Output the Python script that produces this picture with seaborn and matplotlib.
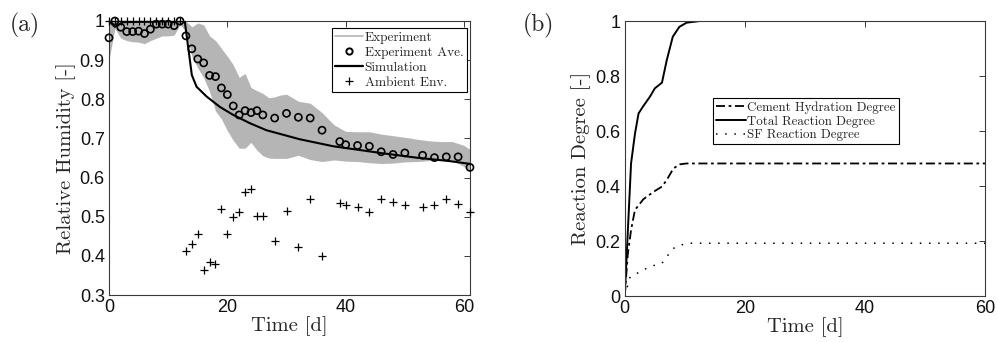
import numpy as np
import pandas as pd
import matplotlib
matplotlib.use("Agg")
import matplotlib.pyplot as plt
from matplotlib.lines import Line2D
import seaborn as sns

# ---------------- data: panel (a) ----------------
ave_t = [0, 1, 2, 3, 4, 5, 6, 7, 8, 9, 10, 11, 12, 13, 14, 15, 16, 17, 18, 19, 20,
         21, 22, 23, 24, 25, 26, 28, 30, 32, 34, 36, 39, 40, 42, 44, 46, 48, 50,
         53, 55, 57, 59, 61]
ave_rh = [0.957, 1.0, 0.984, 0.973, 0.973, 0.974, 0.968, 0.979, 0.992, 0.992, 0.992,
          0.988, 1.0, 0.962, 0.929, 0.903, 0.893, 0.861, 0.858, 0.829, 0.812, 0.783,
          0.760, 0.771, 0.766, 0.771, 0.760, 0.752, 0.764, 0.754, 0.752, 0.721, 0.692,
          0.684, 0.682, 0.680, 0.666, 0.659, 0.663, 0.657, 0.651, 0.653, 0.653, 0.626]

amb_t = [0, 1, 2, 3, 4, 5, 6, 7, 8, 9, 10, 11, 12, 13, 14, 15, 16, 17, 18, 19, 20,
         21, 22, 23, 24, 25, 26, 28, 30, 32, 34, 36, 39, 40, 42, 44, 46, 48, 50,
         53, 55, 57, 59, 61]
amb_rh = [1.0, 1.0, 1.0, 1.0, 1.0, 1.0, 1.0, 1.0, 1.0, 1.0, 1.0, 1.0, 1.0,
          0.413, 0.430, 0.457, 0.363, 0.384, 0.380, 0.520, 0.457, 0.500, 0.511, 0.562,
          0.572, 0.501, 0.501, 0.438, 0.514, 0.423, 0.544, 0.399, 0.535, 0.531, 0.525,
          0.513, 0.545, 0.538, 0.529, 0.525, 0.529, 0.546, 0.532, 0.511]

sim_t = [0, 1, 2.4, 12.8, 14, 14.8, 16.5, 18.7, 21, 23.8, 26.6, 32.2, 37.9, 40.7,
         46.3, 51.9, 57.6, 61]
sim_rh = [1.0, 0.985, 0.997, 1.0, 0.862, 0.832, 0.807, 0.781, 0.760, 0.739, 0.721,
          0.698, 0.680, 0.674, 0.662, 0.651, 0.642, 0.635]

band_t = [0, 1, 2, 3, 4, 5, 6, 7, 8, 9, 10, 11, 12, 13, 14, 15, 16, 17, 18, 19, 20,
          21, 22, 23, 24, 25, 26, 27, 28, 29, 30, 32, 34, 36, 38, 40, 42, 44, 46, 48,
          50, 52, 54, 56, 58, 60, 61]
band_hi = [1.0, 1.0, 1.0, 1.0, 1.0, 1.0, 1.0, 1.0, 1.0, 1.0, 1.0, 1.0, 1.0, 1.0,
           0.985, 0.995, 0.99, 0.962, 0.95, 0.93, 0.91, 0.888, 0.856, 0.866, 0.83,
           0.822, 0.815, 0.804, 0.806, 0.811, 0.813, 0.795, 0.79, 0.766, 0.735, 0.718,
           0.717, 0.717, 0.711, 0.707, 0.703, 0.698, 0.694, 0.692, 0.692, 0.682, 0.672]
band_lo = [0.90, 0.981, 0.956, 0.95, 0.947, 0.946, 0.942, 0.95, 0.956, 0.962, 0.962,
           0.964, 0.99, 0.975, 0.91, 0.88, 0.855, 0.82, 0.77, 0.75, 0.72, 0.695, 0.675,
           0.675, 0.69, 0.67, 0.656, 0.65, 0.649, 0.649, 0.649, 0.657, 0.646, 0.641,
           0.645, 0.642, 0.641, 0.638, 0.636, 0.637, 0.64, 0.641, 0.643, 0.645, 0.645,
           0.628, 0.618]

# ---------------- data: panel (b) ----------------
tot_t = [0, 1.05, 1.7, 2.3, 3.1, 4.2, 5.0, 6.2, 7.0, 8.0, 9.1, 10.3, 12.5, 60]
tot_v = [0, 0.482, 0.59, 0.664, 0.691, 0.725, 0.755, 0.776, 0.858, 0.943, 0.979,
         0.994, 1.0, 1.0]
cem_t = [0, 0.5, 1.05, 1.7, 3.1, 4.8, 6.2, 7.0, 8.1, 9.2, 10.3, 60]
cem_v = [0, 0.15, 0.24, 0.313, 0.352, 0.379, 0.398, 0.422, 0.464, 0.479, 0.482, 0.482]
sf_t = [0, 0.9, 2.0, 4.2, 6.2, 7.0, 8.1, 9.2, 10.9, 60]
sf_v = [0, 0.07, 0.082, 0.107, 0.119, 0.143, 0.173, 0.185, 0.192, 0.192]

# ---------------- style ----------------
sns.set_style("white")
plt.rcParams['font.family'] = ['Liberation Sans', 'DejaVu Sans']
SERIF = ['cmr10', 'Liberation Serif', 'DejaVu Serif']
plt.rcParams['axes.unicode_minus'] = False

fig = plt.figure(figsize=(9.98, 3.42), dpi=100)
axa = fig.add_axes([0.1092, 0.1374, 0.3617, 0.8012])
axb = fig.add_axes([0.626, 0.1345, 0.361, 0.804])

GRAY = '#b5b5b5'
SPINE = '#3a3a3a'
LABEL_FS = 14.8

# ---- panel (a)
axa.fill_between(band_t, band_lo, band_hi, color=GRAY, linewidth=0, zorder=1)
sns.lineplot(x=sim_t, y=sim_rh, ax=axa, color='black', linewidth=1.5,
             sort=False, estimator=None, zorder=3)
sns.scatterplot(x=ave_t, y=ave_rh, ax=axa, marker='o', s=26, facecolors='none',
                edgecolor='black', linewidth=1.2, zorder=4, clip_on=False)
sns.scatterplot(x=amb_t, y=amb_rh, ax=axa, marker='+', s=40, color='black',
                linewidth=0.9, zorder=4, clip_on=False)
axa.set_xlim(0, 61)
axa.set_ylim(0.3, 1.0)
axa.set_xticks([0, 20, 40, 60])
axa.set_yticks([0.3, 0.4, 0.5, 0.6, 0.7, 0.8, 0.9, 1.0])
axa.set_yticklabels(['0.3', '0.4', '0.5', '0.6', '0.7', '0.8', '0.9', '1'])
axa.set_xlabel('Time [d]', family=SERIF, fontsize=LABEL_FS, labelpad=0)
axa.set_ylabel('Relative Humidity [-]', family=SERIF, fontsize=LABEL_FS, labelpad=3)

h_a = [Line2D([], [], color=GRAY, linewidth=1.2),
       Line2D([], [], linestyle='none', marker='o', markersize=4.5,
              markerfacecolor='none', markeredgecolor='black', markeredgewidth=1.4),
       Line2D([], [], color='black', linewidth=1.6),
       Line2D([], [], linestyle='none', marker='+', markersize=6,
              color='black', markeredgewidth=0.9)]
la = axa.legend(h_a, ['Experiment', 'Experiment Ave.', 'Simulation', 'Ambient Env.'],
                loc='upper left', bbox_to_anchor=(332 / 998, 1 - 28 / 342),
                bbox_transform=fig.transFigure, borderaxespad=0,
                prop={'family': SERIF, 'size': 9.6}, fancybox=False, framealpha=1,
                edgecolor='black', handlelength=2.1, handletextpad=0.1,
                labelspacing=0.2, borderpad=0.25)
la.get_frame().set_linewidth(0.8)

# ---- panel (b)
sns.lineplot(x=cem_t, y=cem_v, ax=axb, color='black', linewidth=1.3, sort=False,
             estimator=None, label='Cement Hydration Degree',
             linestyle=(0, (5, 2, 1.5, 2)))
sns.lineplot(x=tot_t, y=tot_v, ax=axb, color='black', linewidth=1.4, sort=False,
             estimator=None, label='Total Reaction Degree')
sns.lineplot(x=sf_t, y=sf_v, ax=axb, color='black', linewidth=1.1, sort=False,
             estimator=None, label='SF Reaction Degree', linestyle=(0, (1, 5)))
axb.set_xlim(0, 60)
axb.set_ylim(0, 1)
axb.set_xticks([0, 20, 40, 60])
axb.set_yticks([0, 0.2, 0.4, 0.6, 0.8, 1.0])
axb.set_yticklabels(['0', '0.2', '0.4', '0.6', '0.8', '1'])
axb.set_xlabel('Time [d]', family=SERIF, fontsize=LABEL_FS, labelpad=0)
axb.set_ylabel('Reaction Degree [-]', family=SERIF, fontsize=LABEL_FS, labelpad=3)
lb = axb.legend(loc='upper left', bbox_to_anchor=(713 / 998, 1 - 98 / 342),
                bbox_transform=fig.transFigure, borderaxespad=0,
                prop={'family': SERIF, 'size': 9.3}, fancybox=False, framealpha=1,
                edgecolor='black', handlelength=2.3, handletextpad=0.1,
                labelspacing=0.12, borderpad=0.25)
lb.get_frame().set_linewidth(0.8)

for ax in (axa, axb):
    for sp in ax.spines.values():
        sp.set_visible(True)
        sp.set_color(SPINE)
        sp.set_linewidth(0.8)
    ax.tick_params(direction='in', length=4, width=0.7, color=SPINE,
                   top=True, right=True, labelsize=13, pad=3,
                   labelcolor='#111111')
    ax.grid(False)

fig.text(10 / 998, 1 - 25 / 342, '(a)', family=SERIF, fontsize=17, va='center')
fig.text(523 / 998, 1 - 25 / 342, '(b)', family=SERIF, fontsize=17, va='center')

fig.savefig('out.png', dpi=100)
